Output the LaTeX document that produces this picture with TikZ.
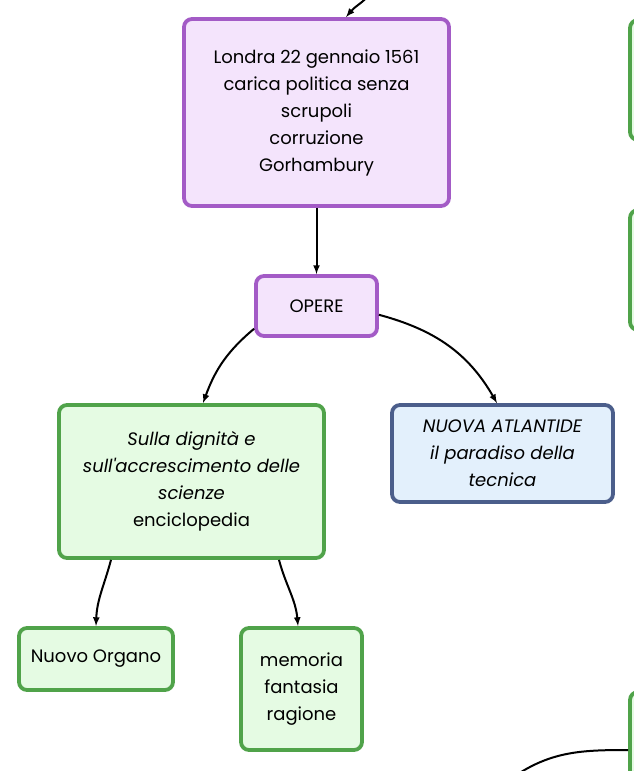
\documentclass[tikz,border=0pt]{standalone}
\usepackage{fontspec}
\setmainfont{Poppins}[Ligatures=TeXOff]
\usetikzlibrary{positioning}
\definecolor{lilaborder}{HTML}{A35BC6}
\definecolor{lilafill}{HTML}{F4E4FC}
\definecolor{verdeborder}{HTML}{50A34A}
\definecolor{verdefill}{HTML}{E5FBE3}
\definecolor{bluborder}{HTML}{4B5E8B}
\definecolor{blufill}{HTML}{E3F0FC}
\begin{document}
\begin{tikzpicture}[x=1pt ,y=1pt ,-latex ,on grid ,
line width =2pt ,
box/.style ={ rectangle ,rounded corners =8pt ,line width =3.8pt ,
align =center ,inner sep =0pt ,
font =\fontsize{18}{27}\selectfont},
viola/.style ={ box ,draw =lilaborder ,fill =lilafill},
verde/.style ={ box ,draw =verdeborder ,fill =verdefill},
blu/.style ={ box ,draw =bluborder ,fill =blufill}]
\useasboundingbox (0,0) rectangle (634,-771);
\node[viola ,minimum width =265pt ,minimum height =187pt] (londra) at (316.5,-112.5)
{Londra 22 gennaio 1561\\carica politica senza\\scrupoli\\corruzione\\Gorhambury};
\node[viola ,minimum width =121pt ,minimum height =60pt] (opere) [below = 193.5pt of londra] {OPERE};
\node[verde ,minimum width =265pt ,minimum height =153pt] (sulla) [below left = 175.5pt and 125pt of opere]
{\itshape Sulla dignità e\\\itshape sull'accrescimento delle\\\itshape scienze\\enciclopedia};
\node[blu ,minimum width =221pt ,minimum height =97pt] (nuova) [below right = 147.5pt and 186pt of opere]
{\itshape NUOVA ATLANTIDE\\\itshape il paradiso della\\\itshape tecnica};
\node[verde ,minimum width =154pt ,minimum height =62pt] (organo) [below left = 177.5pt and 95.5pt of sulla] {Nuovo Organo};
\node[verde ,minimum width =121pt ,minimum height =122pt] (memoria) [below right = 207.5pt and 110pt of sulla]
{memoria\\fantasia\\ragione};
% nodi tagliati dal bordo destro
\node[verde ,minimum width =130pt ,minimum height =120pt] (destraA) at (695,-80) {};
\node[verde ,minimum width =130pt ,minimum height =120pt] (destraB) at (695,-270) {};
\node[verde ,minimum width =130pt ,minimum height =120pt] (destraC) at (695,-752) {};
\coordinate (sopra) at (372,8);
\coordinate (sotto) at (512,-778);
\draw (sopra) to[out=-130 ,in=50] ([xshift=29.5pt]londra.north);
\draw (londra) -- (opere);
\draw (opere.200) to[out=-140 ,in=70] ([xshift=11.5pt]sulla.north);
\draw (opere.-8) to[out=-15 ,in=120] ([xshift=-5.5pt]nuova.north);
\draw ([xshift=-80.5pt]sulla.south) to[out=-105 ,in=88] (organo.north);
\draw ([xshift=87.5pt]sulla.south) to[out=-75 ,in=95] ([xshift=-3.5pt]memoria.north);
\draw[-] (sotto) to[out=35 ,in=180] ([yshift=2pt]destraC.west);
\end{tikzpicture}
\end{document}
